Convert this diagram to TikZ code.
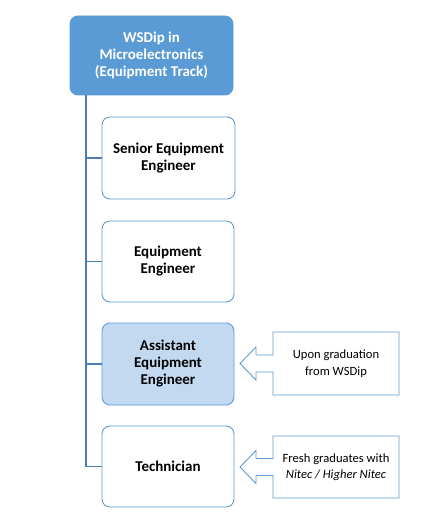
\documentclass[tikz,border=0pt]{standalone}
\usepackage{fontspec}
\setmainfont{Carlito}
\definecolor{topblue}{HTML}{5B9BD5}
\definecolor{edgeblue}{HTML}{5B9BD5}
\definecolor{lineblue}{HTML}{4A7EBB}
\definecolor{paleblue}{HTML}{C3D9F0}
\begin{document}
\begin{tikzpicture}[x=1pt,y=-1pt,
  rolebox/.style={draw=edgeblue,line width=0.9pt,rounded corners=8pt,fill=white,
    minimum width=132pt,minimum height=81pt,align=center,
    font=\fontsize{15}{17}\selectfont\bfseries,text=black},
  topbox/.style={rolebox,draw=topblue,fill=topblue,text=white,minimum width=163pt,minimum height=79pt},
  notetext/.style={align=center,font=\fontsize{12.6}{16.5}\selectfont,text=black,inner sep=0pt},
  callout/.style={draw=edgeblue,line width=0.9pt,fill=white},
  link/.style={draw=lineblue,line width=1.1pt}]
\useasboundingbox (0,0) rectangle (443,516);
\fill[white] (0,0) rectangle (443,516);
\node[topbox] (top) at (151.5,55.5) {WSDip in\\Microelectronics\\(Equipment Track)};
\node[rolebox,minimum width=133pt,minimum height=82pt] (senior) at (168.5,158) {Senior Equipment\\Engineer};
\node[rolebox] (equip) at (168,261.5) {Equipment\\Engineer};
\node[rolebox,fill=paleblue,minimum height=82pt] (asst) at (168,364) {Assistant\\Equipment\\Engineer};
\node[rolebox] (tech) at (168,466.5) {Technician};
\coordinate (trunk) at (86,95);
\coordinate (bend) at (86,466.5);
\draw[link] (trunk) -- (bend) -- (tech.west);
\draw[link] (trunk |- senior.west) -- (senior.west);
\draw[link] (trunk |- equip.west) -- (equip.west);
\draw[link] (trunk |- asst.west) -- (asst.west);
% callouts
\foreach \n/\cy/\h in {c1/363.5/63, c2/467/62}{
  \path[callout] (273,\cy-\h/2) -- (399,\cy-\h/2) -- (399,\cy+\h/2) -- (273,\cy+\h/2)
    -- (273,\cy+8.5) -- (256,\cy+8.5) -- (256,\cy+16.5) -- (240,\cy)
    -- (256,\cy-16.5) -- (256,\cy-8.5) -- (273,\cy-8.5) -- cycle;
}
\node[notetext] (n1) at (336,363.5) {Upon graduation\\from WSDip};
\node[notetext] (n2) at (336,467) {Fresh graduates with\\\textit{Nitec / Higher Nitec}};
\end{tikzpicture}
\end{document}
